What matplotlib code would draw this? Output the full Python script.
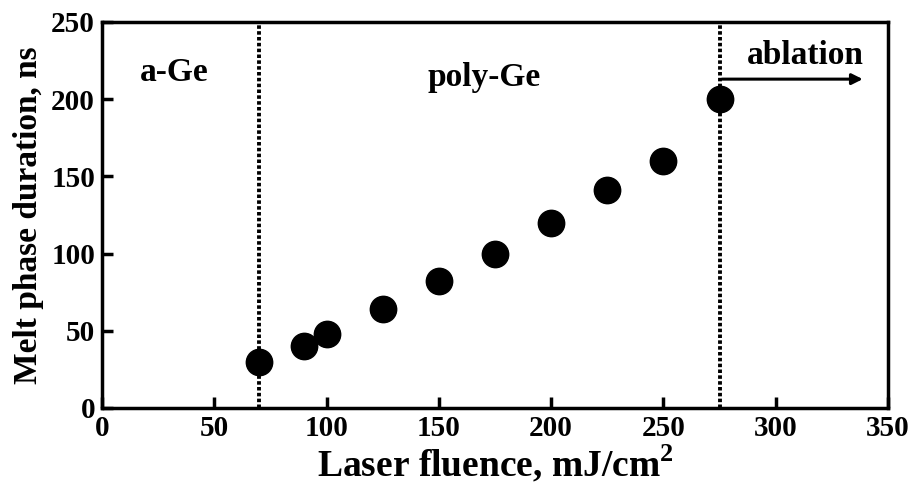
import matplotlib
matplotlib.use("Agg")
import matplotlib.pyplot as plt

fluence = [70, 90, 100, 125, 150, 175, 200, 225, 250, 275]
duration = [30, 40, 48, 64, 82, 100, 120, 141, 160, 200]
thresholds = [70, 275]
region_labels = ["a-Ge", "poly-Ge", "ablation"]
region_x = [32, 170, 313]
region_y = [217, 214, 228]
xticks = [0, 50, 100, 150, 200, 250, 300, 350]
yticks = [0, 50, 100, 150, 200, 250]

plt.rcParams['font.family'] = ['Liberation Serif', 'DejaVu Serif']
plt.rcParams['font.weight'] = 'bold'
plt.rcParams['mathtext.fontset'] = 'custom'
plt.rcParams['mathtext.rm'] = 'Liberation Serif:bold'
plt.rcParams['mathtext.bf'] = 'Liberation Serif:bold'

fig = plt.figure(figsize=(9.16, 4.91), dpi=100)
ax = fig.add_axes([102/916, 1-408/491, (888-102)/916, (408-22)/491])

ax.plot(fluence, duration, 'o', color='black', markersize=19, zorder=3, clip_on=False)
for t in thresholds:
    ax.axvline(t, color='black', linestyle=(0, (0.9, 0.6)), linewidth=2.8, zorder=2)

ax.annotate("", xy=(340, 213), xytext=(275, 213),
            arrowprops=dict(arrowstyle='-|>', color='black', lw=2.2, mutation_scale=16))

for lab, x, y in zip(region_labels, region_x, region_y):
    ax.text(x, y, lab, ha='center', va='center', fontsize=24, fontweight='bold')

ax.set_xlim(0, 350)
ax.set_ylim(0, 250)
ax.set_xticks(xticks)
ax.set_yticks(yticks)
ax.tick_params(direction='in', length=8, width=2.5, labelsize=21, top=False, right=False, pad=5)
for lab in ax.get_xticklabels() + ax.get_yticklabels():
    lab.set_fontweight('bold')
for s in ax.spines.values():
    s.set_linewidth(2.5)

ax.set_xlabel("Laser fluence, mJ/cm$^\\mathbf{2}$", fontsize=27, fontweight='bold', labelpad=1)
ax.set_ylabel("Melt phase duration, ns", fontsize=24, fontweight='bold', labelpad=5)

fig.savefig("out.png", dpi=100)
